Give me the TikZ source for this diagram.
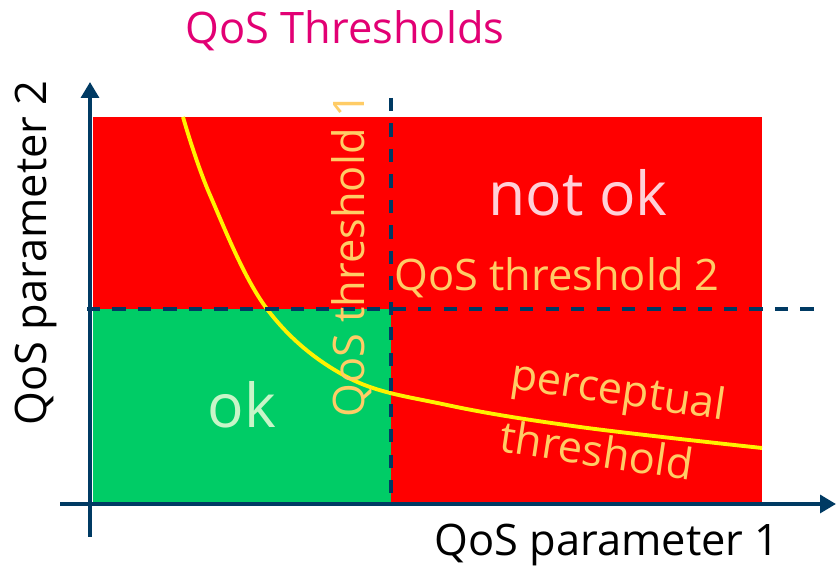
\documentclass[tikz,border=0pt]{standalone}
\usepackage{fontspec}
\setmainfont{Open Sans}
\usetikzlibrary{arrows.meta}
\definecolor{axisblue}{HTML}{003A63}
\definecolor{okgreen}{HTML}{00CC66}
\definecolor{badred}{HTML}{FF0000}
\definecolor{titlemag}{HTML}{E20074}
\definecolor{lblorange}{HTML}{FFCC66}
\definecolor{okfont}{HTML}{C8F5C8}
\definecolor{notokfont}{HTML}{FFD0D8}
\tikzset{
  axisline/.style={draw=axisblue, line width=2.5pt, -{Triangle[length=9pt,width=10pt]}},
  thrline/.style={draw=axisblue, line width=2.3pt, dash pattern=on 7.5pt off 7pt},
  curveline/.style={draw=yellow, line width=2.2pt},
  lbl/.style={inner sep=0pt, font=\fontsize{24.7}{29}\selectfont},
  biglbl/.style={inner sep=0pt, font=\fontsize{34.5}{40}\selectfont},
}
\begin{document}
\begin{tikzpicture}[x={(0.02cm,0)}, y={(0,-0.02cm)}]
\useasboundingbox (0,0) rectangle (836,570);
% regions
\fill[badred] (93,117) rectangle (762,503);
\fill[okgreen] (93,309) rectangle (391,503);
% curve
\draw[curveline] plot[smooth, tension=0.6] coordinates {(183,117) (210,195) (267,309) (347,377) (447,405) (580,427) (762,448)};
% thresholds
\coordinate (t1a) at (391,98);
\coordinate (t1b) at (391,503);
\coordinate (t2a) at (87,309);
\coordinate (t2b) at (815,309);
\draw[thrline] (t1a) -- (t1b);
\draw[thrline] (t2a) -- (t2b);
% axes
\coordinate (yb) at (90,537);
\coordinate (yt) at (90,82);
\coordinate (xl) at (60,504);
\coordinate (xr) at (836,504);
\draw[axisline] (yb) -- (yt);
\draw[axisline] (xl) -- (xr);
% labels
\node[lbl, text=titlemag] (title) at (345,31) {QoS Thresholds};
\node[lbl, rotate=90] (ylab) at (36,253) {QoS parameter 2};
\node[lbl] (xlab) at (607,545) {QoS parameter 1};
\node[biglbl, text=notokfont] (notok) at (578,193) {not ok};
\node[biglbl, text=okfont] (ok) at (242,405) {ok};
\node[lbl, rotate=90, text=lblorange] (thr1) at (352,255) {QoS threshold 1};
\node[lbl, text=lblorange] (thr2) at (557,278) {QoS threshold 2};
\node[lbl, rotate=-8.5, text=lblorange] (perc) at (618,393) {perceptual};
\node[lbl, rotate=-8.5, text=lblorange] (thrs) at (597,450) {threshold};
\end{tikzpicture}
\end{document}
